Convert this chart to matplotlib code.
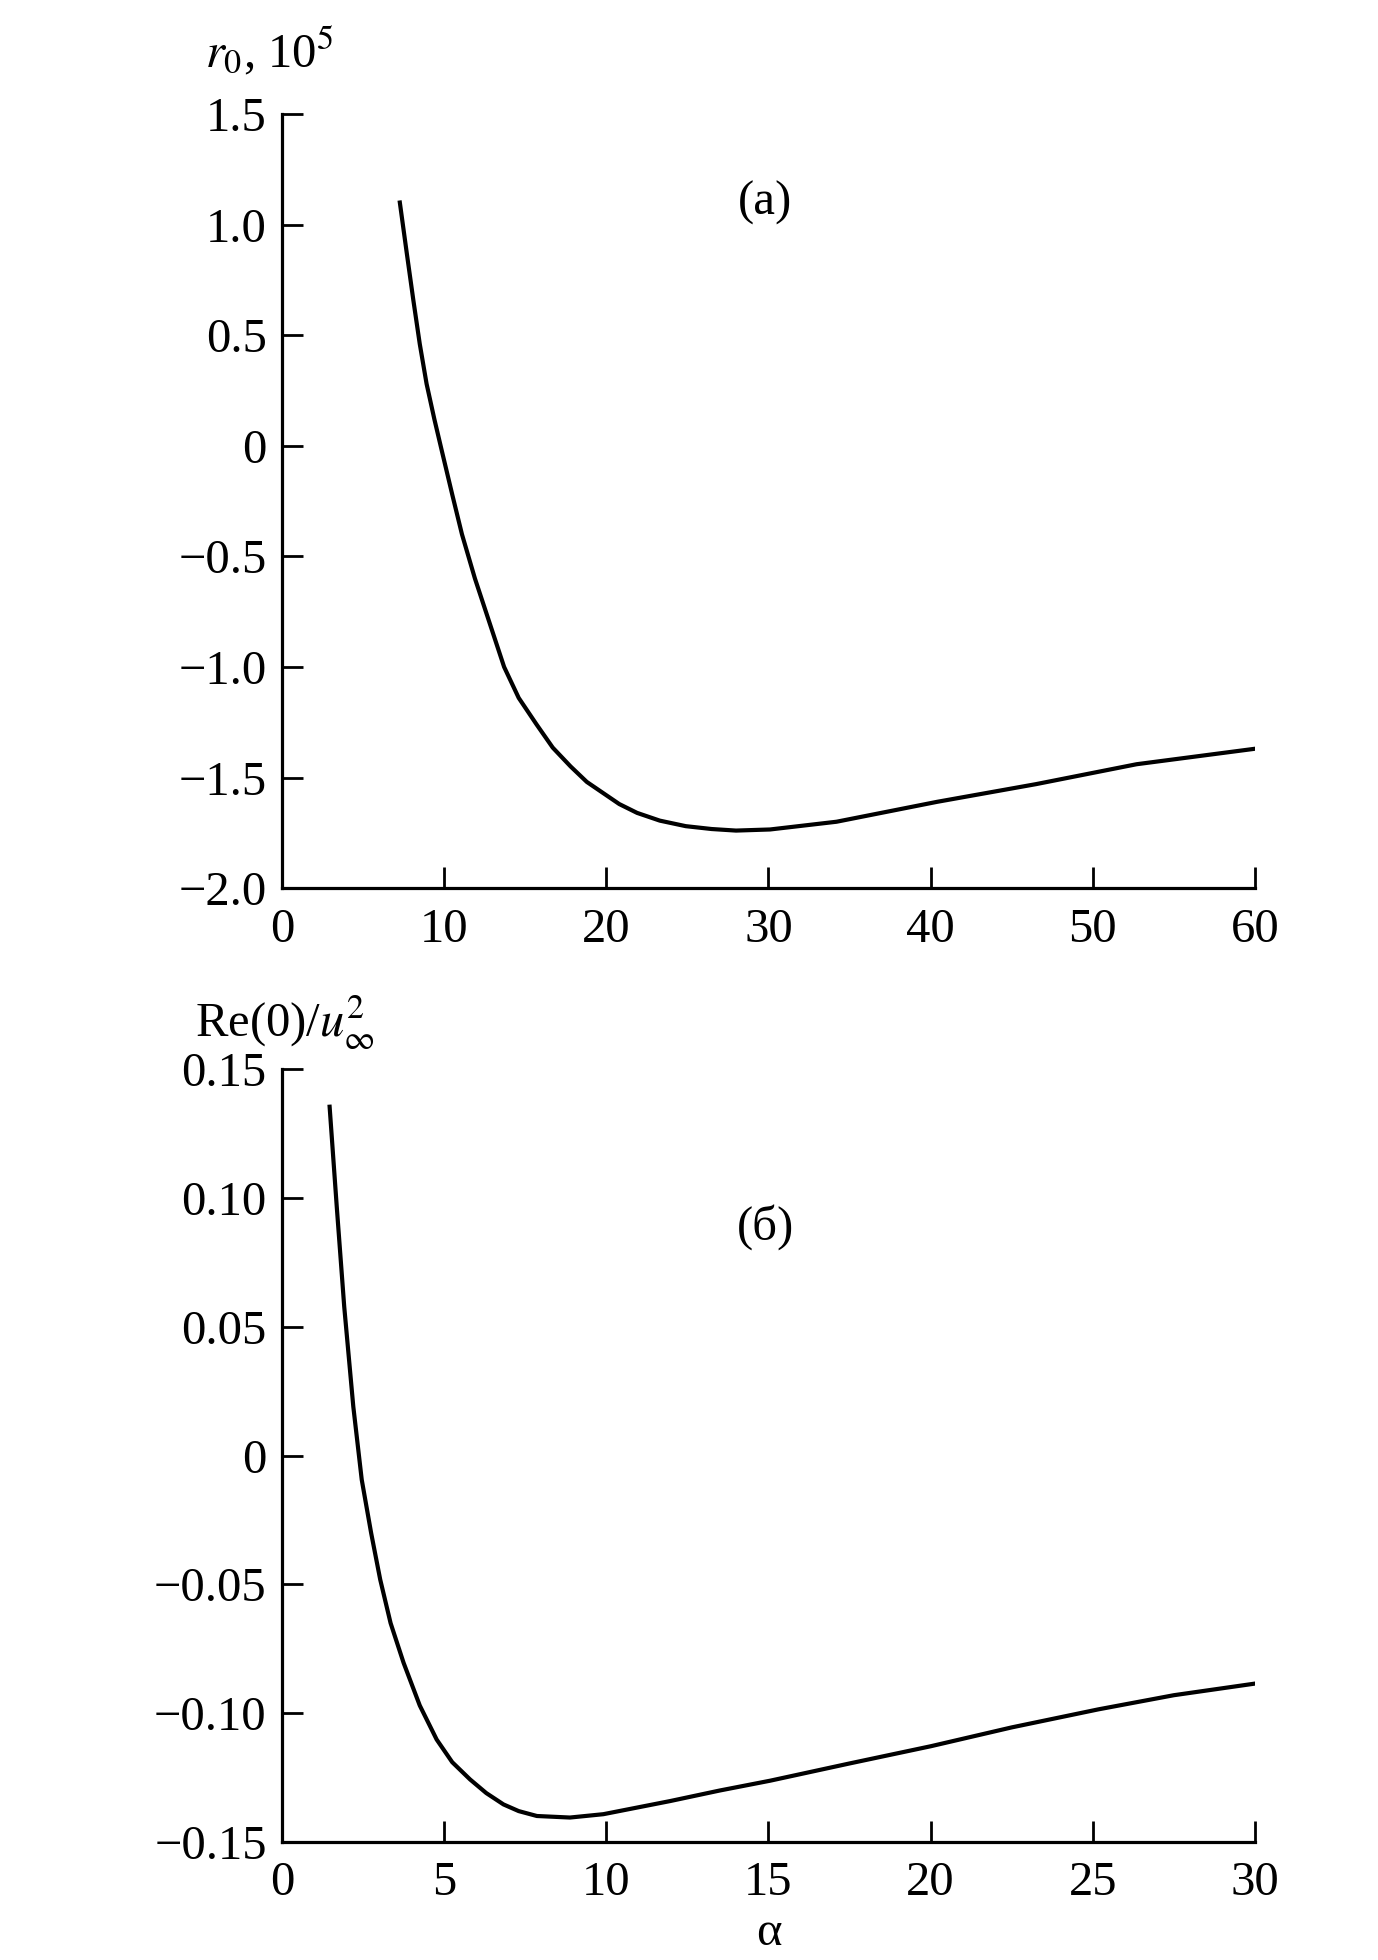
import numpy as np
import matplotlib
matplotlib.use('Agg')
import matplotlib.pyplot as plt

plt.rcParams['font.family'] = ['Liberation Serif', 'DejaVu Serif']
plt.rcParams['mathtext.fontset'] = 'stix'

# (a) r0 vs alpha
alpha_a = [7.27, 7.7, 8.10, 8.5, 8.92, 9.4, 9.85, 10.5, 11.1, 11.9, 12.8, 13.7, 14.6,
           15.7, 16.7, 17.8, 18.8, 19.8, 20.8, 21.9, 23.3, 24.9, 26.5, 28.0, 30.1,
           34.2, 40.4, 46.5, 52.7, 60.0]
r0 = [1.10, 0.87, 0.66, 0.46, 0.28, 0.12, -0.02, -0.22, -0.40, -0.60, -0.80, -1.00, -1.14,
      -1.26, -1.365, -1.45, -1.52, -1.57, -1.62, -1.66, -1.695, -1.72, -1.733, -1.74, -1.735,
      -1.70, -1.61, -1.53, -1.44, -1.37]

# (б) Re(0)/u_inf^2 vs alpha
alpha_b = [1.47, 1.69, 1.92, 2.20, 2.46, 2.75, 3.03, 3.35, 3.75, 4.25, 4.77, 5.25, 5.80,
           6.3, 6.83, 7.3, 7.86, 8.88, 9.91, 11.97, 13.5, 15.05, 17.5, 20.01, 22.5,
           25.17, 27.5, 30.05]
re0 = [0.1355, 0.0967, 0.0579, 0.0191, -0.0093, -0.030, -0.0481, -0.065, -0.0804, -0.097,
       -0.1102, -0.119, -0.1257, -0.131, -0.1354, -0.138, -0.1399, -0.1405, -0.1392, -0.1341,
       -0.130, -0.1262, -0.1195, -0.1128, -0.1055, -0.0985, -0.093, -0.0884]

xt_a = [0, 10, 20, 30, 40, 50, 60]
yt_a = [-2.0, -1.5, -1.0, -0.5, 0, 0.5, 1.0, 1.5]
ylab_a = ['\u22122.0', '\u22121.5', '\u22121.0', '\u22120.5', '0', '0.5', '1.0', '1.5']
xt_b = [0, 5, 10, 15, 20, 25, 30]
yt_b = [-0.15, -0.10, -0.05, 0, 0.05, 0.10, 0.15]
ylab_b = ['\u22120.15', '\u22120.10', '\u22120.05', '0', '0.05', '0.10', '0.15']

fs = 35
fig = plt.figure(figsize=(13.78, 19.60), dpi=100)
ax1 = fig.add_axes([0.2046, 0.5469, 0.7061, 0.3949])
ax2 = fig.add_axes([0.2046, 0.0602, 0.7061, 0.3942])

def style(ax):
    for s in ['top', 'right']:
        ax.spines[s].set_visible(False)
    for s in ['left', 'bottom']:
        ax.spines[s].set_linewidth(2.3)
    ax.tick_params(direction='in', length=15, width=2.0, labelsize=fs)
    ax.tick_params(axis='y', pad=11)
    ax.tick_params(axis='x', pad=14)

ax1.plot(alpha_a, r0, color='black', lw=3.0, solid_joinstyle='round')
ax1.set_xlim(0, 60)
ax1.set_ylim(-2.0, 1.5)
ax1.set_xticks(xt_a)
ax1.set_yticks(yt_a)
ax1.set_yticklabels(ylab_a)
style(ax1)
ax1.text(29.8, 1.097, '(a)', fontsize=fs, ha='center', va='center')

ax2.plot(alpha_b, re0, color='black', lw=3.0, solid_joinstyle='round')
ax2.set_xlim(0, 30)
ax2.set_ylim(-0.15, 0.15)
ax2.set_xticks(xt_b)
ax2.set_yticks(yt_b)
ax2.set_yticklabels(ylab_b)
style(ax2)
ax2.text(14.9, 0.0887, '(б)', fontsize=fs, ha='center', va='center')
ax2.set_xlabel('α', fontsize=fs, labelpad=4)

fig.text(205 / 1378, 1 - 67 / 1960, r'$r_0$, 10$^5$', fontsize=fs, ha='left', va='baseline')
fig.text(195 / 1378, 1 - 1037 / 1960, r'Re(0)/$u_\infty^2$', fontsize=fs, ha='left', va='baseline')

fig.savefig('out.png', dpi=100)
